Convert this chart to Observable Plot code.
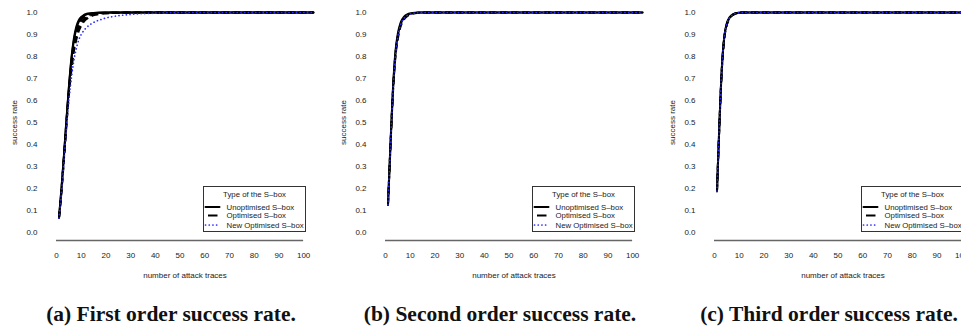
<!DOCTYPE html>
<html>
<head>
<meta charset="utf-8">
<script src="https://cdn.jsdelivr.net/npm/d3@7"></script>
<script src="https://cdn.jsdelivr.net/npm/@observablehq/plot@0.6"></script>
<style>
  html, body { margin: 0; padding: 0; background: #fff; }
  #root { position: relative; width: 961px; height: 331px; overflow: hidden; background: #fff; }
  .panel { position: absolute; top: 0; width: 329px; height: 331px; }
  .caption { position: absolute; left: -100px; width: 542px; top: 302.7px; text-align: center;
             font-family: "Liberation Serif", serif; font-weight: bold; font-size: 21.5px; line-height: 22px;
             color: #111; white-space: nowrap; }
  .legend { position: absolute; left: 203px; top: 186px; }
</style>
</head>
<body>
<div id="root"></div>
<script>
// ---- data ----
const xPoints = [1, 2, 3, 4, 5, 6, 7, 8, 9, 10, 11, 12, 14, 16, 18, 20, 25, 30, 40, 50, 60, 80, 104];
const xTicks = [0, 10, 20, 30, 40, 50, 60, 70, 80, 90, 100];
const yTicks = [0, 0.1, 0.2, 0.3, 0.4, 0.5, 0.6, 0.7, 0.8, 0.9, 1.0];
const sboxTypes = ["Unoptimised S–box", "Optimised S–box", "New Optimised S–box"];
const legendTitle = "Type of the S–box";
const xLabel = "number of attack traces";
const yLabel = "success rate";
const captions = ["(a) First order success rate.", "(b) Second order success rate.", "(c) Third order success rate."];

// first order
const firstUnopt1 = [.067, .20, .35, .51, .66, .79, .88, .935, .965, .98, .988, .993, .997, .999, 1, 1, 1, 1, 1, 1, 1, 1, 1];
const firstUnopt2 = [.066, .195, .345, .505, .655, .78, .87, .925, .957, .975, .984, .99, .996, .998, .999, 1, 1, 1, 1, 1, 1, 1, 1];
const firstOpt1   = [.066, .19, .34, .50, .645, .765, .855, .91, .945, .965, .977, .985, .993, .997, .998, .999, 1, 1, 1, 1, 1, 1, 1];
const firstOpt2   = [.065, .19, .335, .49, .635, .75, .835, .89, .93, .952, .967, .977, .988, .994, .997, .998, .999, 1, 1, 1, 1, 1, 1];
const firstOpt3   = [.064, .185, .33, .485, .625, .735, .82, .875, .915, .94, .957, .969, .983, .99, .994, .996, .999, 1, 1, 1, 1, 1, 1];
const firstNew    = [.065, .18, .32, .47, .60, .70, .78, .835, .875, .90, .917, .93, .948, .96, .968, .975, .985, .991, .997, 1, 1, 1, 1];
// second order
const secondUnopt1 = [.127, .40, .65, .82, .905, .95, .973, .986, .993, .996, .998, .999, 1, 1, 1, 1, 1, 1, 1, 1, 1, 1, 1];
const secondUnopt2 = [.125, .39, .64, .81, .895, .943, .968, .982, .99, .994, .997, .998, 1, 1, 1, 1, 1, 1, 1, 1, 1, 1, 1];
const secondOpt1   = [.125, .395, .64, .805, .89, .94, .965, .98, .988, .993, .996, .998, .999, 1, 1, 1, 1, 1, 1, 1, 1, 1, 1];
const secondOpt2   = [.123, .385, .63, .795, .88, .932, .96, .976, .985, .991, .995, .997, .999, 1, 1, 1, 1, 1, 1, 1, 1, 1, 1];
const secondNew    = [.125, .39, .635, .80, .89, .94, .966, .98, .988, .993, .996, .998, .999, 1, 1, 1, 1, 1, 1, 1, 1, 1, 1];
// third order
const thirdUnopt1 = [.188, .50, .755, .895, .952, .977, .989, .995, .998, .999, 1, 1, 1, 1, 1, 1, 1, 1, 1, 1, 1, 1, 1];
const thirdUnopt2 = [.187, .495, .75, .89, .948, .974, .987, .994, .997, .999, 1, 1, 1, 1, 1, 1, 1, 1, 1, 1, 1, 1, 1];
const thirdOpt1   = [.186, .495, .748, .888, .946, .973, .986, .993, .997, .999, 1, 1, 1, 1, 1, 1, 1, 1, 1, 1, 1, 1, 1];
const thirdOpt2   = [.185, .49, .745, .885, .944, .971, .985, .992, .996, .998, 1, 1, 1, 1, 1, 1, 1, 1, 1, 1, 1, 1, 1];
const thirdNew    = [.188, .497, .75, .89, .948, .975, .987, .994, .997, .999, 1, 1, 1, 1, 1, 1, 1, 1, 1, 1, 1, 1, 1];

const panelSeries = [
  [[0, firstUnopt1], [0, firstUnopt2], [1, firstOpt1], [1, firstOpt2], [1, firstOpt3], [2, firstNew]],
  [[0, secondUnopt1], [0, secondUnopt2], [1, secondOpt1], [1, secondOpt2], [2, secondNew]],
  [[0, thirdUnopt1], [0, thirdUnopt2], [1, thirdOpt1], [1, thirdOpt2], [2, thirdNew]]
];

// ---- styles ----
const typeStyles = [
  {stroke: "#000", strokeWidth: 2, strokeDasharray: null, strokeLinecap: "round"},
  {stroke: "#000", strokeWidth: 2, strokeDasharray: "7,4", strokeLinecap: "butt"},
  {stroke: "#2a2aff", strokeWidth: 1.7, strokeDasharray: "0.1,3.6", strokeLinecap: "round"}
];
const PANEL_STEP = 329;

const root = document.getElementById("root");

panelSeries.forEach((seriesList, p) => {
  const rows = [];
  seriesList.forEach(([type, values], s) => {
    values.forEach((v, i) => rows.push({id: s, type, x: xPoints[i], y: v}));
  });

  const lineMarks = [0, 1, 2].map(t => Plot.line(rows.filter(r => r.type === t), {
    x: "x", y: "y", z: "id", curve: "monotone-x",
    stroke: typeStyles[t].stroke,
    strokeWidth: typeStyles[t].strokeWidth,
    strokeDasharray: typeStyles[t].strokeDasharray ?? undefined,
    strokeLinecap: typeStyles[t].strokeLinecap
  }));

  const chart = Plot.plot({
    width: 329,
    height: 290,
    marginTop: 12,
    marginBottom: 58,
    marginLeft: 56,
    marginRight: 16,
    style: {fontFamily: "Liberation Sans, Arial, sans-serif", fontSize: "8px", color: "#222", background: "transparent", overflow: "visible"},
    x: {domain: [0, 104]},
    y: {domain: [0, 1]},
    marks: [
      Plot.axisY({ticks: yTicks, tickSize: 0, tickPadding: 19, tickFormat: d3.format(".1f"),
                  label: yLabel, labelAnchor: "center", labelArrow: "none", labelOffset: 45, fontSize: 8}),
      Plot.axisX({ticks: xTicks, tickSize: 0, tickPadding: 20, tickFormat: d3.format("d"),
                  label: xLabel, labelAnchor: "center", labelArrow: "none", labelOffset: 45, fontSize: 8}),
      Plot.ruleY([yTicks[0]], {x1: xTicks[0], x2: xTicks[xTicks.length - 1], dy: 8, stroke: "#666", strokeWidth: 1.3}),
      lineMarks[0], lineMarks[1], lineMarks[2]
    ]
  });

  const panel = document.createElement("div");
  panel.className = "panel";
  panel.style.left = (p * PANEL_STEP) + "px";
  panel.appendChild(chart);

  // legend
  const lw = 103, lh = 46;
  const leg = d3.create("svg").attr("width", lw).attr("height", lh).attr("class", "legend")
    .style("font-family", "Liberation Sans, Arial, sans-serif").style("font-size", "7.8px");
  leg.append("rect").attr("x", 0.5).attr("y", 0.5).attr("width", lw - 1).attr("height", lh - 1)
    .attr("fill", "#fff").attr("stroke", "#333").attr("stroke-width", 1);
  leg.append("text").attr("x", lw / 2).attr("y", 8.2).attr("dy", "0.35em").attr("text-anchor", "middle")
    .attr("fill", "#222").text(legendTitle);
  const rowY = [21, 29.5, 39];
  sboxTypes.forEach((name, t) => {
    const st = typeStyles[t];
    const ln = leg.append("line").attr("x1", t === 1 ? 5 : 2.5).attr("x2", t === 1 ? 14.5 : 16.5)
      .attr("y1", rowY[t]).attr("y2", rowY[t])
      .attr("stroke", st.stroke).attr("stroke-width", st.strokeWidth).attr("stroke-linecap", st.strokeLinecap);
    if (st.strokeDasharray && t === 2) ln.attr("stroke-dasharray", st.strokeDasharray);
    leg.append("text").attr("x", 23.5).attr("y", rowY[t]).attr("dy", "0.35em").attr("fill", "#222").text(name);
  });
  panel.appendChild(leg.node());

  const cap = document.createElement("div");
  cap.className = "caption";
  cap.textContent = captions[p];
  panel.appendChild(cap);

  root.appendChild(panel);
});
</script>
</body>
</html>
